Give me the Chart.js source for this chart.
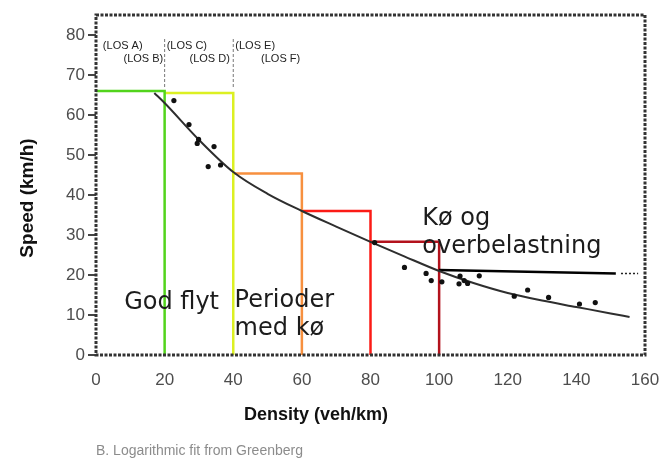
<!DOCTYPE html>
<html>
<head>
<meta charset="utf-8">
<script src="https://cdn.jsdelivr.net/npm/chart.js@4.4.1/dist/chart.umd.min.js"></script>
<style>
  html, body { margin: 0; padding: 0; background: #fff; }
  #wrap { width: 667px; height: 459px; }
</style>
</head>
<body>
<div id="wrap"><canvas id="chart" width="667" height="459"></canvas></div>
<script>
// Greenberg log fit (density veh/km, speed km/h)
const fitDensity = [17, 20, 30, 40, 50, 60, 70, 80, 90, 100, 110, 120, 130, 140, 150, 155.5];
const fitSpeed = [65.5, 63, 53.8, 45.75, 40.3, 36, 32.1, 28.3, 24.6, 21, 18, 15.5, 13.6, 12, 10.4, 9.5];

// observed points
const obsDensity = [22.7, 27.1, 29.9, 29.5, 34.4, 32.7, 36.3, 81.2, 89.9, 96.2, 97.7, 100.8, 106.1, 105.8, 107.3, 108.3, 111.7, 121.9, 125.8, 131.9, 140.9, 145.5];
const obsSpeed = [63.6, 57.6, 53.9, 52.9, 52.1, 47.1, 47.5, 28.1, 21.9, 20.4, 18.6, 18.3, 19.75, 17.8, 18.6, 17.9, 19.8, 14.7, 16.25, 14.4, 12.75, 13.1];

// LOS steps
const stepStart = [0, 20, 40, 60, 80];
const stepEnd = [20, 40, 60, 80, 100];
const stepSpeed = [66, 65.5, 45.4, 36, 28.3];
const stepColors = ['#52d41c', '#dcf022', '#f7903f', '#fb1b16', '#b3121c'];

// queue line to the right of 100
const queueDensity = [100, 151.5];
const queueSpeed = [21.25, 20.4];
const queueTailDensity = [153, 158];

// dashed LOS dividers near the top
const dividerDensity = [20, 40];
const dividerSpeed = [79, 66.5];

const losLabels = ['(LOS A)', '(LOS B)', '(LOS C)', '(LOS D)', '(LOS E)', '(LOS F)'];
const zoneLabels = [['God flyt'], ['Perioder', 'med kø'], ['Kø og', 'overbelastning']];

const xTicks = [0, 20, 40, 60, 80, 100, 120, 140, 160];
const yTicks = [0, 10, 20, 30, 40, 50, 60, 70, 80];

const datasets = [];

datasets.push({
    data: obsDensity.map((x, i) => ({ x, y: obsSpeed[i] })),
    showLine: false,
    pointRadius: 2.6,
    pointBackgroundColor: '#111',
    pointBorderWidth: 0,
});

datasets.push({
    data: fitDensity.map((x, i) => ({ x, y: fitSpeed[i] })),
    showLine: true,
    borderColor: '#2e2e2e',
    borderWidth: 2,
    pointRadius: 0,
    cubicInterpolationMode: 'monotone',
});

datasets.push({
    data: queueDensity.map((x, i) => ({ x, y: queueSpeed[i] })),
    showLine: true,
    borderColor: '#000',
    borderWidth: 2.5,
    pointRadius: 0,
});

datasets.push({
    data: queueTailDensity.map((x) => ({ x, y: queueSpeed[1] })),
    showLine: true,
    borderColor: '#222',
    borderWidth: 1.5,
    borderDash: [2, 2],
    pointRadius: 0,
});

stepStart.forEach((x0, i) => {
    datasets.push({
        data: [
            { x: x0, y: stepSpeed[i] },
            { x: stepEnd[i], y: stepSpeed[i] },
            { x: stepEnd[i], y: 0 },
        ],
        showLine: true,
        borderColor: stepColors[i],
        borderWidth: 2.5,
        pointRadius: 0,
    });
});

dividerDensity.forEach((x) => {
    datasets.push({
        data: dividerSpeed.map((y) => ({ x, y })),
        showLine: true,
        borderColor: '#777',
        borderWidth: 1,
        borderDash: [3, 2],
        pointRadius: 0,
    });
});

// text positions in data units: [x, y, align]
const losPos = [[2, 76.5, 'left'], [19.6, 73.25, 'right'], [20.6, 76.5, 'left'],
                [39, 73.25, 'right'], [40.6, 76.5, 'left'], [48.1, 73.25, 'left']];
const zonePos = [[8.2, 11.5], [40.4, 12], [95.1, 32.5]];

const overlay = {
    id: 'overlay',
    afterDatasetsDraw(chart) {
        const { ctx, chartArea: a, scales: { x, y } } = chart;
        ctx.save();

        // scanned-looking frame
        ctx.strokeStyle = '#333';
        ctx.lineWidth = 3;
        ctx.setLineDash([3, 1.5]);
        ctx.strokeRect(a.left, a.top, a.right - a.left, a.bottom - a.top);
        ctx.setLineDash([]);

        ctx.fillStyle = '#222';
        ctx.font = '11px "Liberation Sans", Arial, sans-serif';
        ctx.textBaseline = 'alphabetic';
        losLabels.forEach((t, i) => {
            const [dx, dy, al] = losPos[i];
            ctx.textAlign = al;
            ctx.fillText(t, x.getPixelForValue(dx), y.getPixelForValue(dy));
        });

        ctx.fillStyle = '#1c1c1c';
        ctx.font = '24px "DejaVu Sans", sans-serif';
        ctx.textAlign = 'left';
        zoneLabels.forEach((lines, i) => {
            const [dx, dy] = zonePos[i];
            lines.forEach((t, j) => {
                ctx.fillText(t, x.getPixelForValue(dx), y.getPixelForValue(dy) + j * 27.5);
            });
        });

        // axis titles and caption
        ctx.fillStyle = '#111';
        ctx.font = 'bold 18px "Liberation Sans", Arial, sans-serif';
        ctx.textAlign = 'center';
        ctx.fillText('Density (veh/km)', 316, 420);

        ctx.save();
        ctx.translate(33, 198);
        ctx.rotate(-Math.PI / 2);
        ctx.font = 'bold 19px "Liberation Sans", Arial, sans-serif';
        ctx.fillText('Speed (km/h)', 0, 0);
        ctx.restore();

        ctx.fillStyle = '#8c8c8c';
        ctx.font = '14px "Liberation Sans", Arial, sans-serif';
        ctx.textAlign = 'left';
        ctx.fillText('B. Logarithmic fit from Greenberg', 96, 455);

        ctx.restore();
    },
};

new Chart(document.getElementById('chart'), {
    type: 'scatter',
    data: { datasets },
    options: {
        responsive: false,
        animation: false,
        layout: { padding: { top: 15, right: 22, left: 0, bottom: 0 } },
        plugins: { legend: { display: false }, tooltip: { enabled: false } },
        scales: {
            x: {
                type: 'linear',
                min: 0,
                max: 160,
                afterBuildTicks: (s) => { s.ticks = xTicks.map((v) => ({ value: v })); },
                afterFit: (s) => { s.height = 104; s.paddingLeft = 0; s.paddingRight = 0; },
                border: { display: false },
                grid: { drawOnChartArea: false, drawTicks: false },
                ticks: {
                    padding: 15,
                    maxRotation: 0,
                    color: '#4d4d4d',
                    font: { family: '"Liberation Sans", Arial, sans-serif', size: 17 },
                },
            },
            y: {
                type: 'linear',
                min: 0,
                max: 85,
                afterBuildTicks: (s) => { s.ticks = yTicks.map((v) => ({ value: v })); },
                afterFit: (s) => { s.width = 96; s.paddingTop = 0; s.paddingBottom = 0; },
                border: { display: false },
                grid: { drawOnChartArea: false, drawTicks: true, tickLength: 8, color: '#444', lineWidth: 2 },
                ticks: {
                    padding: 3,
                    color: '#4d4d4d',
                    font: { family: '"Liberation Sans", Arial, sans-serif', size: 17 },
                },
            },
        },
    },
    plugins: [overlay],
});
</script>
</body>
</html>
